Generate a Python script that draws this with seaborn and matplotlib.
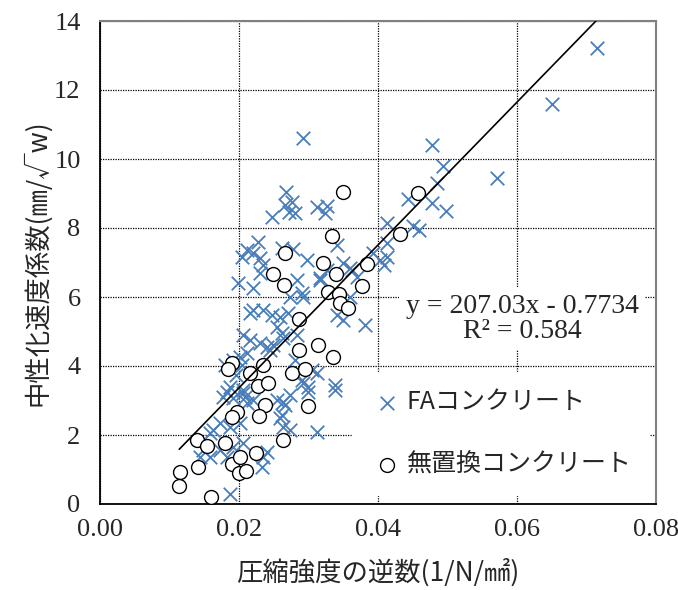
import numpy as np
import pandas as pd
import seaborn as sns
import matplotlib.pyplot as plt

# FAコンクリート (x: 1/compressive strength, y: carbonation coefficient)
fa_x = [0.0715, 0.0650, 0.0571, 0.0478, 0.0494, 0.0485, 0.0443, 0.0478, 0.0498, 0.0413,
        0.0450, 0.0459, 0.0413, 0.0413, 0.0409, 0.0292, 0.0268, 0.0276, 0.0266, 0.0272,
        0.0281, 0.0247, 0.0312, 0.0327, 0.0324, 0.0227, 0.0212, 0.0220, 0.0204, 0.0230,
        0.0235, 0.0230, 0.0199, 0.0220, 0.0341, 0.0278, 0.0262, 0.0298, 0.0283, 0.0317,
        0.0327, 0.0350, 0.0360, 0.0370, 0.0363, 0.0393, 0.0403, 0.0292, 0.0273, 0.0360,
        0.0317, 0.0341, 0.0350, 0.0381, 0.0220, 0.0235, 0.0247, 0.0259, 0.0271, 0.0255,
        0.0216, 0.0206, 0.0216, 0.0230, 0.0240, 0.0245, 0.0262, 0.0263, 0.0283, 0.0201,
        0.0212, 0.0191, 0.0187, 0.0177, 0.0191, 0.0206, 0.0212, 0.0220, 0.0255, 0.0263,
        0.0292, 0.0299, 0.0312, 0.0338, 0.0259, 0.0273, 0.0312, 0.0163, 0.0173, 0.0187,
        0.0201, 0.0148, 0.0158, 0.0173, 0.0183, 0.0191, 0.0235, 0.0240, 0.0233, 0.0187,
        0.0266, 0.0262, 0.0263, 0.0299, 0.0338, 0.0249, 0.0183, 0.0206, 0.0209, 0.0204,
        0.0291, 0.0305, 0.0291, 0.0273, 0.0281, 0.0180, 0.0196, 0.0206, 0.0144, 0.0158]
fa_y = [13.22, 11.59, 9.45, 10.41, 9.80, 9.30, 8.84, 8.72, 8.49, 8.14,
        8.06, 7.94, 7.57, 7.16, 6.93, 10.61, 9.04, 8.75, 8.67, 8.46,
        8.43, 8.32, 8.61, 8.64, 8.43, 7.59, 7.36, 7.28, 7.16, 7.13,
        6.93, 6.70, 6.41, 6.26, 7.51, 7.39, 7.42, 7.07, 6.49, 6.55,
        6.78, 6.99, 6.84, 6.58, 6.78, 7.28, 7.07, 6.00, 6.00, 6.00,
        6.49, 5.48, 5.33, 5.19, 5.62, 5.62, 5.48, 5.42, 5.54, 5.13,
        5.54, 4.90, 4.75, 4.67, 4.55, 4.46, 4.96, 4.81, 4.90, 4.26,
        4.38, 4.17, 3.39, 3.10, 3.07, 3.22, 2.93, 3.01, 3.01, 2.96,
        3.51, 3.39, 3.80, 3.45, 2.49, 2.14, 2.09, 2.14, 2.35, 2.23,
        2.35, 1.57, 1.36, 1.57, 1.36, 1.65, 1.36, 1.51, 1.07, 0.29,
        2.87, 2.58, 2.23, 3.25, 3.30, 4.61, 3.25, 3.30, 3.10, 4.03,
        6.12, 3.88, 3.59, 3.16, 4.17, 4.03, 3.74, 1.77, 1.36, 2.06]

# 無置換コンクリート
pl_x = [0.0350, 0.0458, 0.0334, 0.0432, 0.0266, 0.0321, 0.0384, 0.0249, 0.0340, 0.0265,
        0.0377, 0.0328, 0.0344, 0.0345, 0.0357, 0.0286, 0.0314, 0.0286, 0.0335, 0.0190,
        0.0184, 0.0216, 0.0235, 0.0276, 0.0295, 0.0227, 0.0242, 0.0237, 0.0299, 0.0197,
        0.0190, 0.0229, 0.0140, 0.0154, 0.0180, 0.0263, 0.0224, 0.0115, 0.0114, 0.0141,
        0.0190, 0.0201, 0.0200, 0.0210, 0.0160]
pl_y = [9.04, 9.01, 7.77, 7.82, 7.28, 6.99, 6.96, 6.67, 6.67, 6.35,
        6.32, 6.14, 6.09, 5.83, 5.68, 5.36, 4.61, 4.46, 4.26, 4.09,
        3.91, 3.80, 4.03, 3.80, 3.91, 3.42, 3.51, 2.87, 2.84, 2.67,
        2.52, 2.55, 1.86, 1.68, 1.77, 1.86, 1.48, 0.93, 0.52, 1.07,
        1.16, 1.36, 0.90, 0.96, 0.20]

# 近似直線 (y = 207.03x - 0.7734)
fit_x = [0.0114, 0.0714]
slope, intercept = 207.03, -0.7734

blue = "#4A7EBB"
jp = ["Noto Sans CJK JP", "DejaVu Sans"]

sns.set_style("white")
# serif for numbers, Japanese labels get their own family below
plt.rcParams["font.family"] = ["Liberation Serif", "Noto Sans CJK JP"]

fig = plt.figure(figsize=(6.78, 5.90), dpi=100)
ax = fig.add_axes([100 / 678, 1 - 504 / 590, 556 / 678, 483 / 590])

fa = pd.DataFrame({"x": fa_x, "y": fa_y})
pl = pd.DataFrame({"x": pl_x, "y": pl_y})

sns.scatterplot(data=fa, x="x", y="y", marker="x", color=blue, s=95,
                linewidth=1.3, ax=ax, label="FAコンクリート", zorder=3)
sns.scatterplot(data=pl, x="x", y="y", marker="o", facecolor="white",
                edgecolor="black", s=100, linewidth=1.0, ax=ax,
                label="無置換コンクリート", zorder=4)

fx = np.array(fit_x)
ax.plot(fx, slope * fx + intercept, color="black", lw=1.2, zorder=5)

ax.set_xlim(0, 0.08)
ax.set_ylim(0, 14)
ax.set_xticks([0, 0.02, 0.04, 0.06, 0.08])
ax.set_yticks(range(0, 15, 2))
ax.set_xticklabels(["0.00", "0.02", "0.04", "0.06", "0.08"])
ax.tick_params(direction="in", length=8, width=1, labelsize=19)
ax.tick_params(axis="x", pad=11)
ax.tick_params(axis="y", pad=14)

ax.grid(True, color="black", linestyle=(0, (1, 1)), linewidth=0.9, zorder=0)
ax.set_axisbelow(True)
for side in ["left", "bottom"]:
    ax.spines[side].set_color("black")
    ax.spines[side].set_linewidth(1.3)
for side in ["top", "right"]:
    ax.spines[side].set_color("#808080")
    ax.spines[side].set_linewidth(1.5)

ax.set_xlabel("圧縮強度の逆数(1/N/㎟)", fontsize=19, labelpad=12, family=jp)
ax.set_ylabel("中性化速度係数(㎜/√w)", fontsize=19, labelpad=2, family=jp)

ax.text(0.759, 0.383, "y = 207.03x - 0.7734\nR² = 0.584", transform=ax.transAxes,
        ha="center", va="center", fontsize=20, linespacing=0.95,
        bbox=dict(facecolor="white", edgecolor="none", pad=5), zorder=6)

leg = ax.legend(loc="upper left", bbox_to_anchor=(0.43, 0.30),
                prop={"family": jp, "size": 18},
                frameon=True, facecolor="white", edgecolor="white", framealpha=1,
                fancybox=False, handletextpad=0.1, labelspacing=1.45,
                borderpad=0.7, handlelength=1.4)
leg.set_zorder(7)

fig.savefig("out.png", dpi=100)
